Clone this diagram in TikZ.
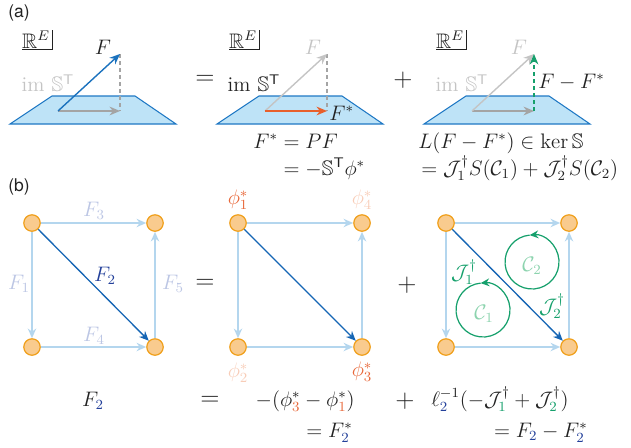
\documentclass[tikz,border=0pt]{standalone}
\usepackage{amsmath,amssymb}
\usepackage{fontspec}
\newfontfamily\hv{TeX Gyre Heros}
\usetikzlibrary{arrows.meta,calc}
\definecolor{planefill}{HTML}{BEE3F7}
\definecolor{planeedge}{HTML}{1F78C4}
\definecolor{vecblue}{HTML}{1B72BE}
\definecolor{arrgray}{HTML}{A4A4A4}
\definecolor{lblgray}{HTML}{C4C4C4}
\definecolor{orng}{HTML}{E8602C}
\definecolor{grn}{HTML}{16A06C}
\definecolor{lgrn}{HTML}{8CD3AE}
\definecolor{edgeblue}{HTML}{B4D6EE}
\definecolor{nodefill}{HTML}{F9CB8E}
\definecolor{nodeedge}{HTML}{F0A01C}
\definecolor{darkblue}{HTML}{1565B4}
\definecolor{navy}{HTML}{23409A}
\definecolor{lav}{HTML}{BCC6E4}
\definecolor{phio}{HTML}{E8683A}
\definecolor{phil}{HTML}{F8CDB8}
\definecolor{txt}{HTML}{222222}
\tikzset{
  vert/.style={circle, draw=nodeedge, fill=nodefill, line width=0.7pt, minimum size=9.4pt, inner sep=0pt},
  edg/.style={draw=edgeblue, line width=0.8pt, -{Stealth[length=5.5pt,width=4.8pt]}},
  dedg/.style={draw=darkblue, line width=0.75pt, -{Stealth[length=5.5pt,width=4.8pt]}},
  vec/.style={line width=0.8pt, -{Stealth[length=6pt,width=5pt]}},
  plane/.style={fill=planefill, draw=planeedge, line width=0.6pt},
  lbl/.style={inner sep=0pt, text=txt, font=\fontsize{12}{14}\selectfont},
  big/.style={inner sep=0pt, text=txt, font=\fontsize{15}{18}\selectfont},
  panel/.style={inner sep=0pt, text=txt, font=\hv\fontsize{10}{12}\selectfont},
  corner/.style={draw=txt, line width=0.5pt},
  dsh/.style={dashed, dash pattern=on 2.5pt off 1.5pt, line width=0.6pt},
  cyc/.style={draw=grn, line width=0.7pt, -{Stealth[length=5pt,width=4.5pt]}},
}
\begin{document}
\begin{tikzpicture}[x=0.5714pt,y=0.5714pt]
\useasboundingbox (0,0) rectangle (631,-447);
% ---------------- (a)
\node[panel] (la) at (19,-13) {(a)};
% panel 1
\draw[plane] (52,-96) -- (135,-96) -- (176,-124) -- (10,-124) -- cycle;
\coordinate (o1) at (58,-111); \coordinate (t1) at (120,-54); \coordinate (p1) at (120,-111);
\draw[arrgray, dsh] (t1) -- (p1);
\draw[vec, arrgray] (o1) -- (p1);
\draw[vec, vecblue] (o1) -- (t1);
\node[lbl] (F1a) at (103,-47) {$F$};
\node[lbl] (R1) at (36,-40) {$\mathbb{R}^{E}$};
\draw[corner] (22,-49) -- (52,-49) -- (52,-30);
\node[lbl, text=lblgray] (im1) at (48,-83) {$\operatorname{im}\,\mathbb{S}^{\mathsf{T}}$};
\node[big] (eq1) at (205,-80) {$=$};
% panel 2
\draw[plane] (259,-96) -- (342,-96) -- (383,-124) -- (217,-124) -- cycle;
\coordinate (o2) at (265,-111); \coordinate (t2) at (327,-54); \coordinate (p2) at (327,-111);
\draw[arrgray, dsh] (t2) -- (p2);
\draw[vec, lblgray] (o2) -- (t2);
\draw[vec, orng] (o2) -- (p2);
\node[lbl, text=lblgray] (F2a) at (313,-47) {$F$};
\node[lbl, anchor=west] (Fs2) at (329,-113) {$F^{*}$};
\node[lbl] (R2) at (243,-40) {$\mathbb{R}^{E}$};
\draw[corner] (229,-49) -- (259,-49) -- (259,-30);
\node[lbl] (im2) at (254,-83) {$\operatorname{im}\,\mathbb{S}^{\mathsf{T}}$};
\node[big] (pl1) at (403,-80) {$+$};
% panel 3
\draw[plane] (466,-96) -- (549,-96) -- (590,-124) -- (424,-124) -- cycle;
\coordinate (o3) at (472,-111); \coordinate (t3) at (534,-54); \coordinate (p3) at (534,-111);
\draw[vec, arrgray] (o3) -- (p3);
\draw[vec, lblgray] (o3) -- (t3);
\draw[grn, dsh, -{Stealth[length=6pt,width=5pt]}] (p3) -- (t3);
\node[lbl, text=lblgray] (F3a) at (519,-47) {$F$};
\node[lbl, anchor=west] (FmF) at (538,-82) {$F - F^{*}$};
\node[lbl] (R3) at (450,-40) {$\mathbb{R}^{E}$};
\draw[corner] (436,-49) -- (466,-49) -- (466,-30);
\node[lbl, text=lblgray] (im3) at (462,-83) {$\operatorname{im}\,\mathbb{S}^{\mathsf{T}}$};
% equations (a)
\node[lbl, anchor=base west] (ea1) at (253,-148) {$F^{*} = PF$};
\node[lbl, anchor=base west] (ea2) at (253,-175) {$\phantom{F^{*}} = -\mathbb{S}^{\mathsf{T}}\phi^{*}$};
\node[lbl, anchor=base west] (eb1) at (418,-148) {$L(F - F^{*}) \in \ker\mathbb{S}$};
\node[lbl, anchor=base west] (eb2) at (421,-175) {$= \mathcal{J}_1^{\dagger} S(\mathcal{C}_1) + \mathcal{J}_2^{\dagger} S(\mathcal{C}_2)$};
% ---------------- (b)
\node[panel] (lb) at (19,-187) {(b)};
% graph 1
\node[vert] (a1) at (32,-223) {};
\node[vert] (a4) at (155,-223) {};
\node[vert] (a2) at (32,-347) {};
\node[vert] (a3) at (155,-347) {};
\draw[edg] (a1) -- (a2);
\draw[edg] (a1) -- (a4);
\draw[edg] (a2) -- (a3);
\draw[edg] (a3) -- (a4);
\draw[dedg] (a1) -- (a3);
\node[lbl, text=lav] (lF1) at (19,-284) {$F_1$};
\node[lbl, text=lav] (lF3) at (94,-211) {$F_3$};
\node[lbl, text=lav] (lF4) at (94,-336) {$F_4$};
\node[lbl, text=lav] (lF5) at (173,-284) {$F_5$};
\node[lbl, text=navy] (lF2) at (105,-276) {$F_2$};
\node[big] (eq2) at (205,-284) {$=$};
% graph 2
\node[vert] (b1) at (238,-223) {};
\node[vert] (b4) at (362,-223) {};
\node[vert] (b2) at (238,-347) {};
\node[vert] (b3) at (362,-347) {};
\draw[edg] (b1) -- (b2);
\draw[edg] (b1) -- (b4);
\draw[edg] (b2) -- (b3);
\draw[edg] (b3) -- (b4);
\draw[dedg] (b1) -- (b3);
\node[lbl, text=phio] (ph1) at (238,-200) {$\phi_1^{*}$};
\node[lbl, text=phil] (ph4) at (362,-200) {$\phi_4^{*}$};
\node[lbl, text=phil] (ph2) at (238,-373) {$\phi_2^{*}$};
\node[lbl, text=phio] (ph3) at (362,-372) {$\phi_3^{*}$};
\node[big] (pl2) at (407,-285) {$+$};
% graph 3
\node[vert] (c1) at (446,-223) {};
\node[vert] (c4) at (569,-223) {};
\node[vert] (c2) at (446,-347) {};
\node[vert] (c3) at (569,-347) {};
\draw[edg] (c1) -- (c2);
\draw[edg] (c1) -- (c4);
\draw[edg] (c2) -- (c3);
\draw[edg] (c3) -- (c4);
\draw[dedg] (c1) -- (c3);
\coordinate (k2) at (532,-262);
\coordinate (k1) at (483,-310);
\draw[cyc] ($(k2)+(95:27)$) arc[start angle=-265, end angle=95, radius=27];
\draw[cyc] ($(k1)+(95:27)$) arc[start angle=-265, end angle=95, radius=27];
\node[lbl, text=lgrn] (C2) at (532,-266) {$\mathcal{C}_2$};
\node[lbl, text=lgrn] (C1) at (484,-314) {$\mathcal{C}_1$};
\node[lbl, text=grn] (J1) at (464,-272) {$\mathcal{J}_1^{\dagger}$};
\node[lbl, text=grn] (J2) at (552,-306) {$\mathcal{J}_2^{\dagger}$};
% bottom equations
\node[lbl, anchor=base] (bF2) at (93,-406) {$F_{\textcolor{navy}{2}}$};
\node[big] (eq3) at (210,-401) {$=$};
\node[lbl, anchor=base east] (br1) at (355,-406) {$-(\phi_{\textcolor{phio}{3}}^{*} - \phi_{\textcolor{phio}{1}}^{*})$};
\node[lbl, anchor=base east] (br2) at (353,-437) {$= F_{\textcolor{navy}{2}}^{*}$};
\node[big] (pl3) at (405,-401) {$+$};
\node[lbl, anchor=base west] (bl1) at (431,-406) {$\ell_{\textcolor{navy}{2}}^{-1}(-\mathcal{J}_{\textcolor{grn}{1}}^{\dagger} + \mathcal{J}_{\textcolor{grn}{2}}^{\dagger})$};
\node[lbl, anchor=base east] (bl2) at (588,-437) {$= F_{\textcolor{navy}{2}} - F_{\textcolor{navy}{2}}^{*}$};
\end{tikzpicture}
\end{document}
